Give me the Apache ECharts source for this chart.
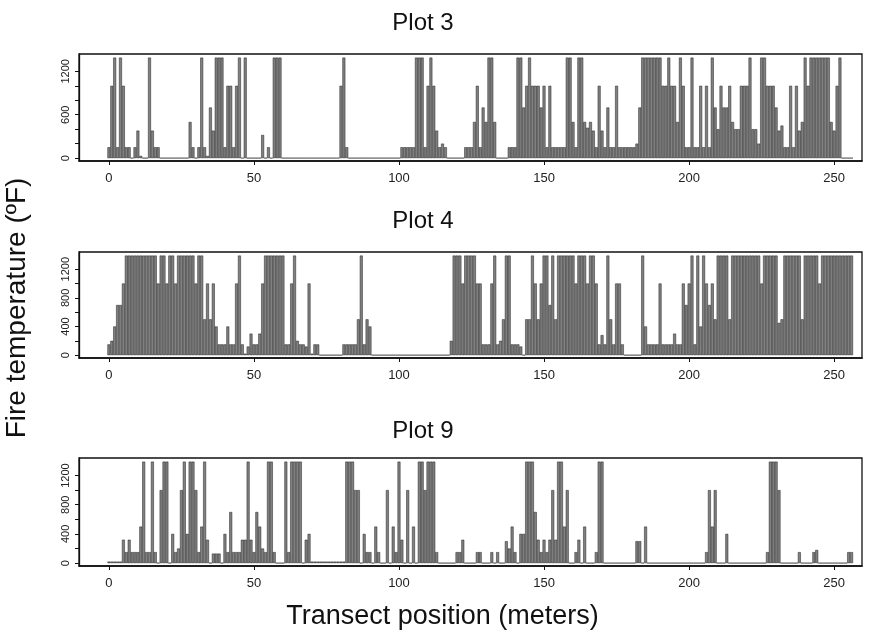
<!DOCTYPE html>
<html><head><meta charset="utf-8">
<script src="https://cdn.jsdelivr.net/npm/echarts@6/dist/echarts.min.js"></script>
<style>html,body{margin:0;padding:0;background:#fff}#c{width:885px;height:641px}</style>
</head><body><div id="c"></div>
<script>
// Transect positions (meters) – one bar per metre
const positions = Array.from({length: 257}, (_, i) => i);

// Plot 3 fire temperatures (ºF)
const plot3 = [
 150,1000,1390,150,1390,1000,150,150,0,150,
 380,30,0,0,1390,380,150,150,0,0,
 0,0,0,0,0,0,0,0,500,150,
 0,150,1390,150,30,700,380,1390,1390,1390,
 150,1000,1000,150,1000,1390,0,1390,0,0,
 0,0,0,320,0,150,0,1390,1390,1390,
 0,0,0,0,0,0,0,0,0,0,
 0,0,0,0,0,0,0,0,0,0,
 1000,1390,150,0,0,0,0,0,0,0,
 0,0,0,0,0,0,0,0,0,0,
 0,150,150,150,150,150,1390,1390,1390,150,
 1000,1390,1000,380,150,200,150,0,0,0,
 0,0,0,150,150,150,500,1000,150,700,
 500,1390,1390,500,0,0,0,0,150,150,
 150,1390,1390,700,1000,1390,1000,1000,1000,700,
 1000,150,1000,150,150,150,150,150,1390,1390,
 500,150,1390,1390,500,420,500,380,150,1000,
 380,150,700,150,150,1000,150,150,150,150,
 150,150,200,700,1390,1390,1390,1390,1390,1390,
 1390,1000,1000,1390,1000,1000,500,1390,1000,150,
 150,1390,150,150,1000,150,1000,150,1390,700,
 400,1000,700,700,1000,500,400,400,1000,1000,
 1000,1390,400,400,200,1390,1390,1000,1000,1000,
 700,380,450,150,150,1000,150,1000,380,500,
 1390,1000,1390,1390,1390,1390,1390,1390,1390,500,
 380,1000,1390,0,0,0,0
];

// Plot 4 fire temperatures (ºF)
const plot4 = [
 150,200,400,700,700,1000,1390,1390,1390,1390,
 1390,1390,1390,1390,1390,1390,1390,1000,1390,1390,
 1000,1390,1390,1000,1390,1390,1390,1390,1390,1390,
 1000,1390,1390,500,1000,500,1000,400,150,150,
 150,400,150,150,1000,1390,150,20,120,300,
 150,150,300,1000,1390,1390,1390,1390,1390,1390,
 1390,150,150,1000,1390,200,150,150,120,1000,
 20,150,150,0,0,0,0,0,0,0,
 0,150,150,150,150,150,500,1390,150,500,
 400,0,0,0,0,0,0,0,0,0,
 0,0,0,0,0,0,0,0,0,0,
 0,0,0,0,0,0,0,0,200,1390,
 1390,1390,1000,1390,1390,1390,1390,1000,1000,150,
 150,150,1000,1390,150,200,500,1390,1390,150,
 150,150,120,0,500,500,1390,1000,500,1000,
 1390,1390,700,1390,500,1390,1390,1390,1390,1390,
 1390,1000,1390,1390,1390,1000,1390,1390,1000,150,
 280,150,1390,500,150,1000,1000,150,0,0,
 0,0,0,0,1390,400,150,150,150,150,
 1000,150,150,150,150,300,150,150,1000,700,
 1000,1390,150,1390,400,1390,1000,700,1000,500,
 1390,1390,1390,1390,500,1390,1390,1390,1390,1390,
 1390,1390,1390,1390,1390,1000,1390,1390,1390,1390,
 1390,450,500,1390,1390,1390,1390,1390,1390,500,
 1390,1390,1390,1390,1390,1000,1390,1390,1390,1390,
 1390,1390,1390,1390,1390,1390,1390
];

// Plot 9 fire temperatures (ºF)
const plot9 = [
 20,20,20,20,20,320,150,320,150,150,
 150,500,1390,150,150,1390,150,0,1000,1390,
 1390,0,400,150,200,1000,1390,400,1390,1390,
 1000,150,500,1390,320,0,130,130,130,0,
 400,150,700,150,150,150,320,320,1390,320,
 150,700,500,200,150,1390,1390,150,0,0,
 0,1390,150,1390,1390,1390,1390,0,320,400,
 20,20,20,20,20,20,20,20,20,20,
 20,20,1390,1390,1390,1000,1000,0,400,150,
 150,0,500,150,0,0,1000,0,500,150,
 1390,320,0,1000,0,500,0,1390,1390,1000,
 1390,1390,1390,150,0,0,0,0,0,0,
 150,150,320,0,0,0,0,150,150,0,
 0,0,150,0,150,0,0,300,200,500,
 150,0,400,400,1390,1390,1390,700,320,150,
 320,150,320,1000,320,1390,1390,500,1000,0,
 0,150,320,0,500,0,0,0,150,1390,
 1390,0,0,0,0,0,0,0,0,0,
 0,0,300,300,0,500,0,0,0,0,
 0,0,0,0,0,0,0,0,0,0,
 0,0,0,0,0,0,150,1000,500,1000,
 0,0,0,400,0,0,0,0,0,0,
 0,0,0,0,0,0,0,150,1390,1390,
 1390,1000,0,0,0,0,0,0,150,0,
 0,0,0,150,180,0,0,0,0,0,
 0,0,0,0,0,150,150
];

const panelTitles = ['Plot 3', 'Plot 4', 'Plot 9'];
const xTicks = [0, 50, 100, 150, 200, 250];
const yTicks = [0, 200, 400, 600, 800, 1000, 1200];
const yLabels = [[0, 600, 1200], [0, 400, 800, 1200], [0, 400, 800, 1200]];
const xTitle = 'Transect position (meters)';
const yTitle = 'Fire temperature (ºF)';

const panels = [plot3, plot4, plot9];
const gridBoxes = [{top: 54, height: 107}, {top: 252, height: 106}, {top: 458, height: 108}];
const titleTops = [6, 204, 414];
const font = 'Liberation Sans, Arial, sans-serif';

const chart = echarts.init(document.getElementById('c'), null, {renderer: 'canvas'});
chart.setOption({
  animation: false,
  backgroundColor: '#fff',
  title: panelTitles.map((t, i) => ({
    text: t, left: 418, top: titleTops[i], textAlign: 'center',
    textStyle: {fontSize: 24, fontWeight: 'normal', color: '#111', fontFamily: font}
  })),
  grid: gridBoxes.map(g => ({
    left: 79, right: 23, top: g.top, height: g.height,
    show: true, borderColor: '#111', borderWidth: 1.3, backgroundColor: 'transparent'
  })),
  xAxis: panels.map((_, i) => ({
    type: 'value', gridIndex: i, min: -10.3, max: 259.6,
    splitLine: {show: false},
    axisLine: {show: true, onZero: false, lineStyle: {color: '#111', width: 1.6}},
    axisTick: {show: true, customValues: xTicks, length: 4, lineStyle: {color: '#111', width: 1}},
    axisLabel: {customValues: xTicks, margin: 11, fontSize: 13, color: '#222', fontFamily: font}
  })),
  yAxis: panels.map((_, i) => ({
    type: 'value', gridIndex: i, min: -40, max: 1440,
    splitLine: {show: false},
    axisLine: {show: true, onZero: false, lineStyle: {color: '#111', width: 1.3}},
    axisTick: {show: true, customValues: yTicks, length: 4, lineStyle: {color: '#111', width: 1}},
    axisLabel: {customValues: yLabels[i], formatter: v => String(v), rotate: 90, margin: 8, fontSize: 11, color: '#222', fontFamily: font}
  })),
  series: panels.map((vals, i) => ({
    type: 'bar', xAxisIndex: i, yAxisIndex: i,
    barWidth: 2.9,
    data: vals.map((v, k) => [positions[k], v]),
    itemStyle: {color: '#808080', borderColor: '#222', borderWidth: 0.5},
    emphasis: {disabled: true}
  })),
  graphic: [
    {type: 'text', left: 'center', top: 603, style: {text: xTitle, fill: '#111', font: '27px ' + font}},
    {type: 'text', x: 3, y: 308, rotation: Math.PI / 2, style: {text: yTitle, fill: '#111', font: '28px ' + font, align: 'center', verticalAlign: 'top'}}
  ]
});
</script>
</body></html>
